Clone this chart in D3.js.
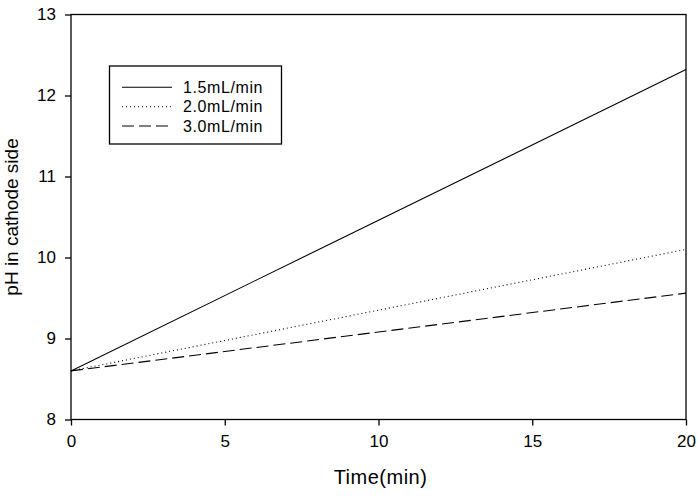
<!DOCTYPE html>
<html><head><meta charset="utf-8">
<script src="https://cdn.jsdelivr.net/npm/d3@7"></script>
<style>body{margin:0;background:#fff}svg{display:block}text{font-family:"Liberation Sans",Arial,sans-serif;fill:#000}</style>
</head><body><svg id="c" width="698" height="500"></svg>
<script>
const times = [0, 20];
const series15 = [8.6, 12.32];
const series20 = [8.6, 10.10];
const series30 = [8.6, 9.56];
const seriesNames = ["1.5mL/min", "2.0mL/min", "3.0mL/min"];
const xTicks = [0, 5, 10, 15, 20];
const yTicks = [8, 9, 10, 11, 12, 13];

const svg = d3.select("#c");
const L = 71, R = 686, T = 14.5, B = 419.5;
const x = d3.scaleLinear().domain([0, 20]).range([L, R]);
const y = d3.scaleLinear().domain([8, 13]).range([B, T]);

const styles = [null, "1,3", "12,5"];
const data = [series15, series20, series30];

svg.append("rect").attr("x", L).attr("y", T).attr("width", R - L).attr("height", B - T)
  .attr("fill", "none").attr("stroke", "#000").attr("stroke-width", 1.3);

const xa = svg.append("g").attr("transform", `translate(0,${B})`)
  .call(d3.axisBottom(x).tickValues(xTicks).tickSize(6).tickPadding(9).tickFormat(d3.format("d")));
const ya = svg.append("g").attr("transform", `translate(${L},0)`)
  .call(d3.axisLeft(y).tickValues(yTicks).tickSize(6).tickPadding(9).tickFormat(d3.format("d")));
[xa, ya].forEach(a => {
  a.select(".domain").remove();
  a.selectAll("line").attr("stroke", "#000").attr("stroke-width", 1.3);
  a.selectAll("text").style("font-size", "17px").style("font-family", '"Liberation Sans",Arial,sans-serif').attr("fill", "#000");
});

const line = d3.line().x((d, i) => x(times[i])).y(d => y(d));
data.forEach((s, k) => {
  svg.append("path").datum(s).attr("d", line).attr("fill", "none")
    .attr("stroke", "#000").attr("stroke-width", 1.1)
    .attr("stroke-dasharray", styles[k]);
});

svg.append("text").attr("x", (L + R) / 2 + 2).attr("y", 484).attr("text-anchor", "middle")
  .style("font-size", "20px").style("letter-spacing", "0.5px").text("Time(min)");
svg.append("text").attr("transform", `translate(18,${(T + B) / 2}) rotate(-90)`)
  .attr("text-anchor", "middle").style("font-size", "19px").text("pH in cathode side");

const lg = svg.append("g");
lg.append("rect").attr("x", 109.5).attr("y", 66).attr("width", 172).attr("height", 78)
  .attr("fill", "#fff").attr("stroke", "#000").attr("stroke-width", 1.3);
const rows = [87.3, 106.7, 126];
seriesNames.forEach((n, k) => {
  lg.append("line").attr("x1", 122).attr("x2", 172).attr("y1", rows[k]).attr("y2", rows[k])
    .attr("stroke", "#000").attr("stroke-width", 1.1).attr("stroke-dasharray", styles[k]);
  lg.append("text").attr("x", 183).attr("y", rows[k] + 5.5).style("font-size", "16px")
    .style("letter-spacing", "0.6px").text(n);
});
</script></body></html>
